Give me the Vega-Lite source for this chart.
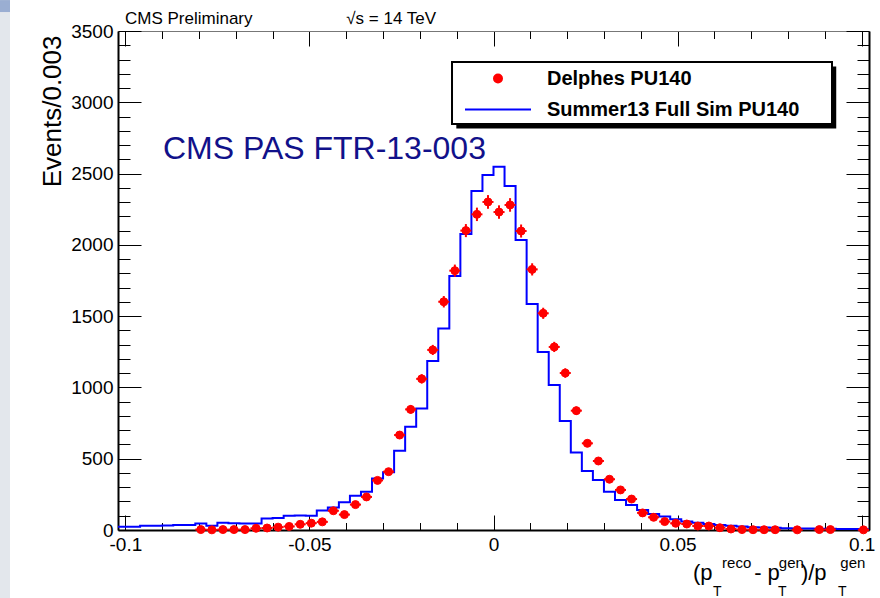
{
  "$schema": "https://vega.github.io/schema/vega-lite/v6.json",
  "width": 751,
  "height": 499,
  "autosize": {"type": "none"},
  "padding": {"left": 118, "top": 31, "right": 11, "bottom": 68},
  "background": "white",
  "config": {
    "view": {"stroke": null},
    "font": "Liberation Sans",
    "axis": {"grid": false, "labelFont": "Liberation Sans", "labelFontSize": 19, "labelColor": "black", "tickColor": "black", "tickWidth": 1, "domainColor": "black", "labelFlush": false, "labelOverlap": false}
  },
  "datasets": {
    "fullsim": [
      {"x": -0.102, "n": 23}, {"x": -0.099, "n": 23}, {"x": -0.096, "n": 30}, {"x": -0.093, "n": 30},
      {"x": -0.09, "n": 32}, {"x": -0.087, "n": 35}, {"x": -0.084, "n": 35}, {"x": -0.081, "n": 45},
      {"x": -0.078, "n": 30}, {"x": -0.075, "n": 50}, {"x": -0.072, "n": 48}, {"x": -0.069, "n": 45},
      {"x": -0.066, "n": 45}, {"x": -0.063, "n": 80}, {"x": -0.06, "n": 85}, {"x": -0.057, "n": 100},
      {"x": -0.054, "n": 102}, {"x": -0.051, "n": 100}, {"x": -0.048, "n": 137}, {"x": -0.045, "n": 157},
      {"x": -0.042, "n": 195}, {"x": -0.039, "n": 240}, {"x": -0.036, "n": 269}, {"x": -0.033, "n": 362},
      {"x": -0.03, "n": 405}, {"x": -0.027, "n": 556}, {"x": -0.024, "n": 725}, {"x": -0.021, "n": 853},
      {"x": -0.018, "n": 1185}, {"x": -0.015, "n": 1414}, {"x": -0.012, "n": 1781}, {"x": -0.009, "n": 2076},
      {"x": -0.006, "n": 2378}, {"x": -0.003, "n": 2490}, {"x": 0, "n": 2548}, {"x": 0.003, "n": 2413},
      {"x": 0.006, "n": 2034}, {"x": 0.009, "n": 1585}, {"x": 0.012, "n": 1248}, {"x": 0.015, "n": 1017},
      {"x": 0.018, "n": 765}, {"x": 0.021, "n": 543}, {"x": 0.024, "n": 414}, {"x": 0.027, "n": 351},
      {"x": 0.03, "n": 269}, {"x": 0.033, "n": 210}, {"x": 0.036, "n": 175}, {"x": 0.039, "n": 140},
      {"x": 0.042, "n": 112}, {"x": 0.045, "n": 95}, {"x": 0.048, "n": 75}, {"x": 0.051, "n": 60},
      {"x": 0.054, "n": 50}, {"x": 0.057, "n": 42}, {"x": 0.06, "n": 35}, {"x": 0.063, "n": 30},
      {"x": 0.066, "n": 25}, {"x": 0.069, "n": 20}, {"x": 0.072, "n": 18}, {"x": 0.075, "n": 15},
      {"x": 0.078, "n": 12}, {"x": 0.081, "n": 10}, {"x": 0.084, "n": 10}, {"x": 0.087, "n": 8},
      {"x": 0.09, "n": 8}, {"x": 0.093, "n": 7}, {"x": 0.096, "n": 7}, {"x": 0.099, "n": 6},
      {"x": 0.102, "n": 6}
    ],
    "delphes": [
      {"x": -0.0795, "lo": -0.081, "hi": -0.078, "n": 3, "ylo": 1.3, "yhi": 4.7},
      {"x": -0.0765, "lo": -0.078, "hi": -0.075, "n": 1, "ylo": 0, "yhi": 2},
      {"x": -0.0735, "lo": -0.075, "hi": -0.072, "n": 3, "ylo": 1.3, "yhi": 4.7},
      {"x": -0.0705, "lo": -0.072, "hi": -0.069, "n": 3, "ylo": 1.3, "yhi": 4.7},
      {"x": -0.0675, "lo": -0.069, "hi": -0.066, "n": 3, "ylo": 1.3, "yhi": 4.7},
      {"x": -0.0645, "lo": -0.066, "hi": -0.063, "n": 12, "ylo": 8.5, "yhi": 15.5},
      {"x": -0.0615, "lo": -0.063, "hi": -0.06, "n": 14, "ylo": 10.3, "yhi": 17.7},
      {"x": -0.0585, "lo": -0.06, "hi": -0.057, "n": 20, "ylo": 15.5, "yhi": 24.5},
      {"x": -0.0555, "lo": -0.057, "hi": -0.054, "n": 25, "ylo": 20, "yhi": 30},
      {"x": -0.0525, "lo": -0.054, "hi": -0.051, "n": 40, "ylo": 33.7, "yhi": 46.3},
      {"x": -0.0495, "lo": -0.051, "hi": -0.048, "n": 48, "ylo": 41.1, "yhi": 54.9},
      {"x": -0.0465, "lo": -0.048, "hi": -0.045, "n": 57, "ylo": 49.5, "yhi": 64.5},
      {"x": -0.0435, "lo": -0.045, "hi": -0.042, "n": 135, "ylo": 123.4, "yhi": 146.6},
      {"x": -0.0405, "lo": -0.042, "hi": -0.039, "n": 108, "ylo": 97.6, "yhi": 118.4},
      {"x": -0.0375, "lo": -0.039, "hi": -0.036, "n": 178, "ylo": 164.7, "yhi": 191.3},
      {"x": -0.0345, "lo": -0.036, "hi": -0.033, "n": 232, "ylo": 216.8, "yhi": 247.2},
      {"x": -0.0315, "lo": -0.033, "hi": -0.03, "n": 348, "ylo": 329.3, "yhi": 366.7},
      {"x": -0.0285, "lo": -0.03, "hi": -0.027, "n": 409, "ylo": 388.8, "yhi": 429.2},
      {"x": -0.0255, "lo": -0.027, "hi": -0.024, "n": 666, "ylo": 640.2, "yhi": 691.8},
      {"x": -0.0225, "lo": -0.024, "hi": -0.021, "n": 846, "ylo": 816.9, "yhi": 875.1},
      {"x": -0.0195, "lo": -0.021, "hi": -0.018, "n": 1060, "ylo": 1027.4, "yhi": 1092.6},
      {"x": -0.0165, "lo": -0.018, "hi": -0.015, "n": 1263, "ylo": 1227.5, "yhi": 1298.5},
      {"x": -0.0135, "lo": -0.015, "hi": -0.012, "n": 1601, "ylo": 1561, "yhi": 1641},
      {"x": -0.0105, "lo": -0.012, "hi": -0.009, "n": 1819, "ylo": 1776.4, "yhi": 1861.6},
      {"x": -0.0075, "lo": -0.009, "hi": -0.006, "n": 2100, "ylo": 2054.2, "yhi": 2145.8},
      {"x": -0.0045, "lo": -0.006, "hi": -0.003, "n": 2214, "ylo": 2166.9, "yhi": 2261.1},
      {"x": -0.0015, "lo": -0.003, "hi": 0, "n": 2301, "ylo": 2253, "yhi": 2349},
      {"x": 0.0015, "lo": 0, "hi": 0.003, "n": 2230, "ylo": 2182.8, "yhi": 2277.2},
      {"x": 0.0045, "lo": 0.003, "hi": 0.006, "n": 2280, "ylo": 2232.3, "yhi": 2327.7},
      {"x": 0.0075, "lo": 0.006, "hi": 0.009, "n": 2097, "ylo": 2051.2, "yhi": 2142.8},
      {"x": 0.0105, "lo": 0.009, "hi": 0.012, "n": 1828, "ylo": 1785.2, "yhi": 1870.8},
      {"x": 0.0135, "lo": 0.012, "hi": 0.015, "n": 1520, "ylo": 1481, "yhi": 1559},
      {"x": 0.0165, "lo": 0.015, "hi": 0.018, "n": 1284, "ylo": 1248.2, "yhi": 1319.8},
      {"x": 0.0195, "lo": 0.018, "hi": 0.021, "n": 1101, "ylo": 1067.8, "yhi": 1134.2},
      {"x": 0.0225, "lo": 0.021, "hi": 0.024, "n": 837, "ylo": 808.1, "yhi": 865.9},
      {"x": 0.0255, "lo": 0.024, "hi": 0.027, "n": 608, "ylo": 583.3, "yhi": 632.7},
      {"x": 0.0285, "lo": 0.027, "hi": 0.03, "n": 484, "ylo": 462, "yhi": 506},
      {"x": 0.0315, "lo": 0.03, "hi": 0.033, "n": 356, "ylo": 337.1, "yhi": 374.9},
      {"x": 0.0345, "lo": 0.033, "hi": 0.036, "n": 281, "ylo": 264.2, "yhi": 297.8},
      {"x": 0.0375, "lo": 0.036, "hi": 0.039, "n": 217, "ylo": 202.3, "yhi": 231.7},
      {"x": 0.0405, "lo": 0.039, "hi": 0.042, "n": 120, "ylo": 109, "yhi": 131},
      {"x": 0.0435, "lo": 0.042, "hi": 0.045, "n": 89, "ylo": 79.6, "yhi": 98.4},
      {"x": 0.0465, "lo": 0.045, "hi": 0.048, "n": 59, "ylo": 51.3, "yhi": 66.7},
      {"x": 0.0495, "lo": 0.048, "hi": 0.051, "n": 47, "ylo": 40.1, "yhi": 53.9},
      {"x": 0.0525, "lo": 0.051, "hi": 0.054, "n": 42, "ylo": 35.5, "yhi": 48.5},
      {"x": 0.0555, "lo": 0.054, "hi": 0.057, "n": 28, "ylo": 22.7, "yhi": 33.3},
      {"x": 0.0585, "lo": 0.057, "hi": 0.06, "n": 28, "ylo": 22.7, "yhi": 33.3},
      {"x": 0.0615, "lo": 0.06, "hi": 0.063, "n": 16, "ylo": 12, "yhi": 20},
      {"x": 0.0645, "lo": 0.063, "hi": 0.066, "n": 7, "ylo": 4.4, "yhi": 9.6},
      {"x": 0.0675, "lo": 0.066, "hi": 0.069, "n": 3, "ylo": 1.3, "yhi": 4.7},
      {"x": 0.0705, "lo": 0.069, "hi": 0.072, "n": 2, "ylo": 0.6, "yhi": 3.4},
      {"x": 0.0735, "lo": 0.072, "hi": 0.075, "n": 2, "ylo": 0.6, "yhi": 3.4},
      {"x": 0.0765, "lo": 0.075, "hi": 0.078, "n": 2, "ylo": 0.6, "yhi": 3.4},
      {"x": 0.0825, "lo": 0.081, "hi": 0.084, "n": 1, "ylo": 0, "yhi": 2},
      {"x": 0.0885, "lo": 0.087, "hi": 0.09, "n": 3, "ylo": 1.3, "yhi": 4.7},
      {"x": 0.0915, "lo": 0.09, "hi": 0.093, "n": 3, "ylo": 1.3, "yhi": 4.7},
      {"x": 0.1005, "lo": 0.099, "hi": 0.102, "n": 1, "ylo": 0, "yhi": 2}
    ]
  },
  "layer": [
    {
      "data": {"values": [{}]},
      "mark": {"type": "rect", "color": "#e3e7ec"},
      "encoding": {
        "x": {"datum": -0.13405, "type": "quantitative", "axis": null},
        "x2": {"datum": -0.13133},
        "y": {"datum": 3717, "type": "quantitative", "axis": null},
        "y2": {"datum": -477}
      }
    },
    {
      "data": {"values": [{}]},
      "mark": {"type": "rect", "color": "#9aaed2"},
      "encoding": {
        "x": {"datum": -0.13405, "type": "quantitative", "axis": null},
        "x2": {"datum": -0.13133},
        "y": {"datum": 3717, "type": "quantitative", "axis": null},
        "y2": {"datum": 3633}
      }
    },
    {
      "data": {"values": [{}]},
      "mark": {"type": "rect", "color": "black"},
      "encoding": {
        "x": {"datum": -0.0101, "type": "quantitative", "axis": null},
        "x2": {"datum": 0.0931},
        "y": {"datum": 3251, "type": "quantitative", "axis": null},
        "y2": {"datum": 2816}
      }
    },
    {
      "data": {"values": [{}]},
      "mark": {"type": "rect", "fill": "white", "stroke": "black", "strokeWidth": 2},
      "encoding": {
        "x": {"datum": -0.01127, "type": "quantitative", "axis": null},
        "x2": {"datum": 0.09195},
        "y": {"datum": 3282, "type": "quantitative", "axis": null},
        "y2": {"datum": 2848}
      }
    },
    {
      "data": {"name": "fullsim"},
      "mark": {"type": "line", "interpolate": "step-after", "strokeWidth": 2, "color": "#0000ff"},
      "encoding": {
        "x": {"field": "x", "type": "quantitative",
          "scale": {"domain": [-0.102, 0.102], "nice": false, "zero": false},
          "axis": {"orient": "bottom", "values": [-0.1, -0.05, 0, 0.05, 0.1], "title": null, "tickSize": -15, "labelPadding": 20, "domainWidth": 2,
            "labelExpr": "datum.value == 0 ? '0' : (datum.value < 0 ? '-' : '') + format(abs(datum.value), '~g')"}},
        "y": {"field": "n", "type": "quantitative",
          "scale": {"domain": [0, 3500], "nice": false},
          "axis": {"orient": "left", "values": [0, 500, 1000, 1500, 2000, 2500, 3000, 3500], "format": "d", "tickSize": -23, "labelPadding": 28, "domainWidth": 2,
            "title": "Events/0.003", "titleFont": "Liberation Sans", "titleFontSize": 26, "titleFontWeight": "normal", "titleColor": "black",
            "titleAngle": 270, "titleAlign": "right", "titleBaseline": "alphabetic", "titleX": -58, "titleY": 4}}
      }
    },
    {
      "data": {"name": "delphes"},
      "mark": {"type": "rule", "color": "#ff0000", "strokeWidth": 2},
      "encoding": {
        "x": {"field": "lo", "type": "quantitative",
          "axis": {"orient": "bottom", "values": [-0.09, -0.08, -0.07, -0.06, -0.04, -0.03, -0.02, -0.01, 0.01, 0.02, 0.03, 0.04, 0.06, 0.07, 0.08, 0.09], "labels": false, "domain": false, "title": null, "tickSize": -7.5}},
        "x2": {"field": "hi"},
        "y": {"field": "n", "type": "quantitative",
          "axis": {"orient": "left", "values": [100, 200, 300, 400, 600, 700, 800, 900, 1100, 1200, 1300, 1400, 1600, 1700, 1800, 1900, 2100, 2200, 2300, 2400, 2600, 2700, 2800, 2900, 3100, 3200, 3300, 3400], "labels": false, "domain": false, "title": null, "tickSize": -12}}
      }
    },
    {
      "data": {"name": "delphes"},
      "mark": {"type": "rule", "color": "#ff0000", "strokeWidth": 2},
      "encoding": {
        "x": {"field": "x", "type": "quantitative",
          "axis": {"orient": "top", "values": [-0.1, -0.05, 0, 0.05, 0.1], "labels": false, "title": null, "tickSize": -15, "domainColor": "#777777", "domainWidth": 1}},
        "y": {"field": "ylo", "type": "quantitative",
          "axis": {"orient": "right", "values": [0, 500, 1000, 1500, 2000, 2500, 3000, 3500], "labels": false, "title": null, "tickSize": -23, "domainWidth": 2}},
        "y2": {"field": "yhi"}
      }
    },
    {
      "data": {"name": "delphes"},
      "mark": {"type": "point", "filled": true, "size": 64, "opacity": 1, "strokeWidth": 1},
      "encoding": {
        "x": {"field": "x", "type": "quantitative",
          "axis": {"orient": "top", "values": [-0.09, -0.08, -0.07, -0.06, -0.04, -0.03, -0.02, -0.01, 0.01, 0.02, 0.03, 0.04, 0.06, 0.07, 0.08, 0.09], "labels": false, "domain": false, "title": null, "tickSize": -7.5}},
        "y": {"field": "n", "type": "quantitative",
          "axis": {"orient": "right", "values": [100, 200, 300, 400, 600, 700, 800, 900, 1100, 1200, 1300, 1400, 1600, 1700, 1800, 1900, 2100, 2200, 2300, 2400, 2600, 2700, 2800, 2900, 3100, 3200, 3300, 3400], "labels": false, "domain": false, "title": null, "tickSize": -12}},
        "fill": {"datum": "Delphes PU140", "type": "nominal",
          "scale": {"domain": ["Delphes PU140", "Summer13 Full Sim PU140"], "range": ["#ff0000", "#0000ff"]},
          "legend": {
            "orient": "none", "legendX": 370, "legendY": 37.5, "title": null,
            "padding": 0, "rowPadding": 11, "labelOffset": 39,
            "labelFont": "Liberation Sans", "labelFontSize": 20, "labelFontWeight": "bold", "labelColor": "black", "labelLimit": 400,
            "symbolSize": 64, "symbolStrokeWidth": 2, "symbolOpacity": 1
          }},
        "stroke": {"datum": "Delphes PU140", "type": "nominal",
          "scale": {"domain": ["Delphes PU140", "Summer13 Full Sim PU140"], "range": ["#ff0000", "#0000ff"]}},
        "shape": {"datum": "Delphes PU140", "type": "nominal",
          "scale": {"domain": ["Delphes PU140", "Summer13 Full Sim PU140"], "range": ["circle", "M-8.25,0L8.25,0"]}}
      }
    },
    {
      "data": {"values": [{}]},
      "mark": {"type": "text", "text": "CMS Preliminary", "font": "Liberation Sans", "fontSize": 17, "align": "left", "baseline": "alphabetic", "color": "black"},
      "encoding": {"x": {"datum": -0.1001, "type": "quantitative", "axis": null}, "y": {"datum": 3549, "type": "quantitative", "axis": null}}
    },
    {
      "data": {"values": [{}]},
      "mark": {"type": "text", "text": "√s = 14 TeV", "font": "Liberation Sans", "fontSize": 17, "align": "left", "baseline": "alphabetic", "color": "black"},
      "encoding": {"x": {"datum": -0.0400, "type": "quantitative", "axis": null}, "y": {"datum": 3549, "type": "quantitative", "axis": null}}
    },
    {
      "data": {"values": [{}]},
      "mark": {"type": "text", "text": "CMS PAS FTR-13-003", "font": "Liberation Sans", "fontSize": 32, "align": "left", "baseline": "alphabetic", "color": "#11118a"},
      "encoding": {"x": {"datum": -0.0898, "type": "quantitative", "axis": null}, "y": {"datum": 2602, "type": "quantitative", "axis": null}}
    },
    {
      "data": {"values": [{}]},
      "mark": {"type": "text", "text": "(p", "font": "Liberation Sans", "fontSize": 22, "align": "left", "baseline": "alphabetic", "color": "black"},
      "encoding": {"x": {"datum": 0.0542, "type": "quantitative", "axis": null}, "y": {"datum": -351, "type": "quantitative", "axis": null}}
    },
    {
      "data": {"values": [{}]},
      "mark": {"type": "text", "text": "- p", "font": "Liberation Sans", "fontSize": 22, "align": "left", "baseline": "alphabetic", "color": "black"},
      "encoding": {"x": {"datum": 0.0708, "type": "quantitative", "axis": null}, "y": {"datum": -351, "type": "quantitative", "axis": null}}
    },
    {
      "data": {"values": [{}]},
      "mark": {"type": "text", "text": ")/p", "font": "Liberation Sans", "fontSize": 22, "align": "left", "baseline": "alphabetic", "color": "black"},
      "encoding": {"x": {"datum": 0.0835, "type": "quantitative", "axis": null}, "y": {"datum": -351, "type": "quantitative", "axis": null}}
    },
    {
      "data": {"values": [{}]},
      "mark": {"type": "text", "text": "T", "font": "Liberation Sans", "fontSize": 14, "align": "left", "baseline": "alphabetic", "color": "black"},
      "encoding": {"x": {"datum": 0.0596, "type": "quantitative", "axis": null}, "y": {"datum": -462, "type": "quantitative", "axis": null}}
    },
    {
      "data": {"values": [{}]},
      "mark": {"type": "text", "text": "T", "font": "Liberation Sans", "fontSize": 14, "align": "left", "baseline": "alphabetic", "color": "black"},
      "encoding": {"x": {"datum": 0.0773, "type": "quantitative", "axis": null}, "y": {"datum": -462, "type": "quantitative", "axis": null}}
    },
    {
      "data": {"values": [{}]},
      "mark": {"type": "text", "text": "T", "font": "Liberation Sans", "fontSize": 14, "align": "left", "baseline": "alphabetic", "color": "black"},
      "encoding": {"x": {"datum": 0.0936, "type": "quantitative", "axis": null}, "y": {"datum": -462, "type": "quantitative", "axis": null}}
    },
    {
      "data": {"values": [{}]},
      "mark": {"type": "text", "text": "reco", "font": "Liberation Sans", "fontSize": 15, "align": "left", "baseline": "alphabetic", "color": "black"},
      "encoding": {"x": {"datum": 0.0621, "type": "quantitative", "axis": null}, "y": {"datum": -270, "type": "quantitative", "axis": null}}
    },
    {
      "data": {"values": [{}]},
      "mark": {"type": "text", "text": "gen", "font": "Liberation Sans", "fontSize": 15, "align": "left", "baseline": "alphabetic", "color": "black"},
      "encoding": {"x": {"datum": 0.0775, "type": "quantitative", "axis": null}, "y": {"datum": -268, "type": "quantitative", "axis": null}}
    },
    {
      "data": {"values": [{}]},
      "mark": {"type": "text", "text": "gen", "font": "Liberation Sans", "fontSize": 15, "align": "left", "baseline": "alphabetic", "color": "black"},
      "encoding": {"x": {"datum": 0.0942, "type": "quantitative", "axis": null}, "y": {"datum": -268, "type": "quantitative", "axis": null}}
    }
  ],
  "resolve": {"axis": {"x": "independent", "y": "independent"}}
}
